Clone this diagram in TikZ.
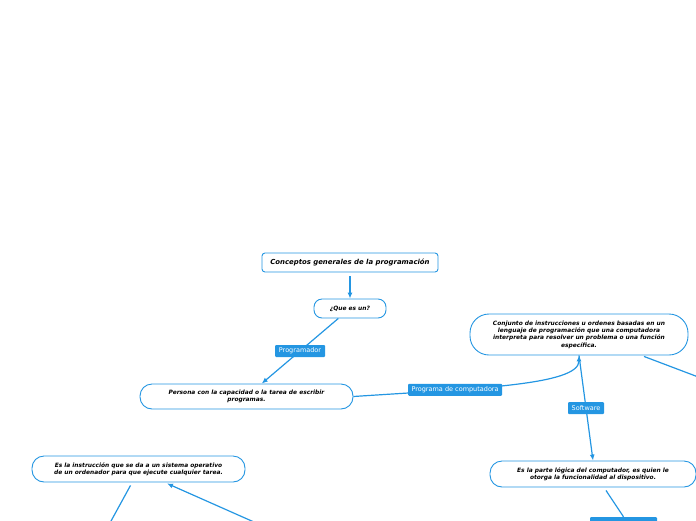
\documentclass[tikz,border=0pt]{standalone}
\usepackage{fontspec}
\setmainfont{DejaVu Sans}
\usetikzlibrary{arrows.meta,calc}
\definecolor{mblue}{RGB}{36,150,226}
\tikzset{
  x=1pt,y=-1pt,
  box/.style={draw=mblue,line width=0.9pt,fill=white,align=center,inner sep=0pt,
    font=\fontsize{5.9}{7.4}\selectfont\bfseries\itshape},
  lbl/.style={fill=mblue,text=white,inner sep=0pt,rounded corners=1pt,
    font=\fontsize{6.5}{7}\selectfont},
  conn/.style={draw=mblue,line width=1.2pt},
  arr/.style={conn,-{Latex[length=6pt,width=5pt]}}
}
\begin{document}
\begin{tikzpicture}
\useasboundingbox (0,0) rectangle (696,520);
\clip (0,0) rectangle (696,520);
% nodes
\node[box,minimum width=176pt,minimum height=19pt,rounded corners=3pt,
  font=\fontsize{6.9}{8}\selectfont\bfseries\itshape] (title) at (350,262.5) {Conceptos generales de la programación};
\node[box,minimum width=72pt,minimum height=19pt,rounded corners=8pt] (que) at (350,308.5) {¿Que es un?};
\node[box,minimum width=213pt,minimum height=25pt,rounded corners=12pt] (persona) at (246.5,396.5)
  {Persona con la capacidad o la tarea de escribir\\programas.};
\node[box,minimum width=218pt,minimum height=41pt,rounded corners=19pt] (conjunto) at (579,334.5)
  {Conjunto de instrucciones u ordenes basadas en un\\lenguaje de programación que una computadora\\interpreta para resolver un problema o una función\\específica.};
\node[box,minimum width=206pt,minimum height=26pt,rounded corners=12pt] (parte) at (593,474)
  {Es la parte lógica del computador, es quien le\\otorga la funcionalidad al dispositivo.};
\node[box,minimum width=213pt,minimum height=26pt,rounded corners=12pt] (instr) at (138.5,469)
  {Es la instrucción que se da a un sistema operativo\\de un ordenador para que ejecute cualquier tarea.};
\node[lbl,minimum width=67pt,minimum height=14pt] (bottomlbl) at (623.5,524) {};
\coordinate (offA) at (722,386);
\coordinate (offB) at (105,532);
\coordinate (offC) at (272,530);
% connectors
\draw[arr,shorten <=4pt] (title) -- (que);
\draw[arr] (que) -- (persona) node[lbl,midway,minimum width=50pt,minimum height=12pt] {Programador};
\draw[arr] (persona.east) .. controls +(120,-8) and +(0,30) .. (conjunto.south)
  node[lbl,pos=0.3,minimum width=94pt,minimum height=12pt] {Programa de computadora};
\draw[arr] (conjunto.south) -- (parte.north)
  node[lbl,midway,minimum width=36pt,minimum height=12pt] {Software};
\draw[conn] ($(conjunto.south)+(65,1)$) -- (offA);
\draw[conn] ($(parte.south)+(13,3)$) -- (bottomlbl.north);
\draw[conn] ($(instr.south)+(-8,3)$) -- (offB);
\draw[arr] (offC) -- ($(instr.south)+(28.5,1)$);
\end{tikzpicture}
\end{document}
